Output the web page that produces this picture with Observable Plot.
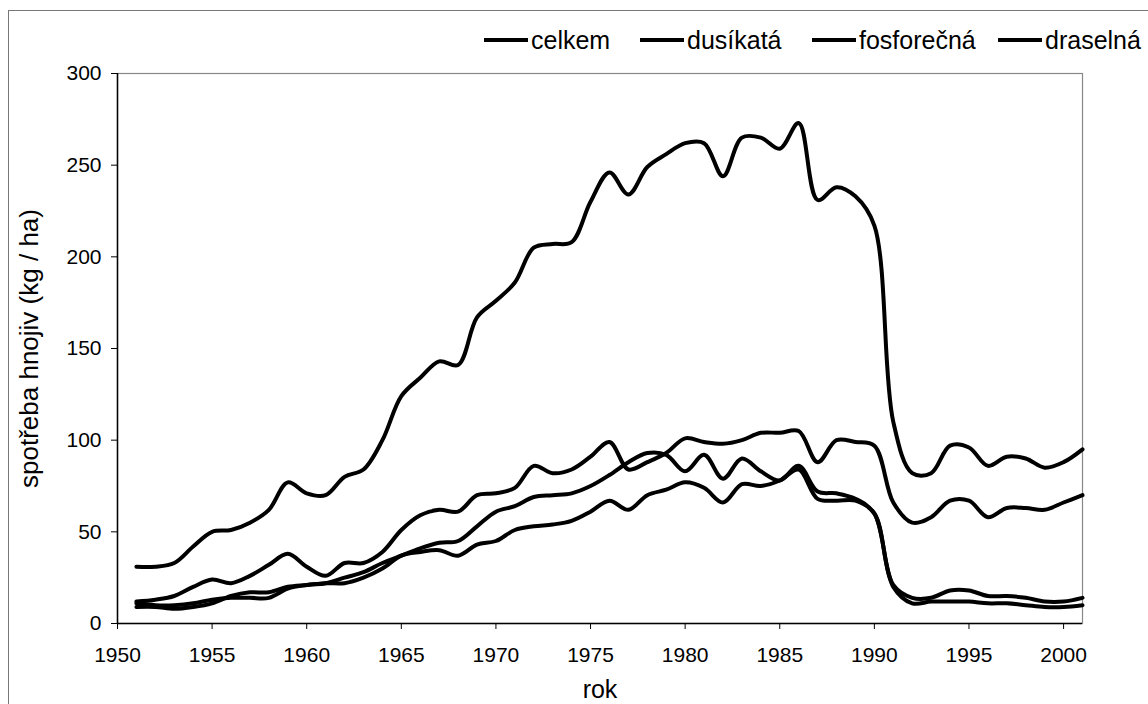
<!DOCTYPE html>
<html>
<head>
<meta charset="utf-8">
<script src="https://cdn.jsdelivr.net/npm/d3@7"></script>
<script src="https://cdn.jsdelivr.net/npm/@observablehq/plot@0.6"></script>
<style>
  html, body { margin: 0; padding: 0; background: #fff; }
  #wrap { position: relative; width: 1148px; height: 704px; overflow: hidden; background: #fff;
          font-family: "Liberation Sans", Arial, sans-serif; }
  #frame { position: absolute; left: 8px; top: 10px; width: 1300px; height: 900px; border: 1.5px solid #777; box-sizing: border-box; }
  #legend { position: absolute; left: 0; top: 0; width: 1148px; height: 60px; }
  .item { position: absolute; top: 25px; display: flex; align-items: center; font-size: 25px; color: #000; line-height: 30px; white-space: nowrap; }
  .swatch { width: 44px; height: 3.5px; background: #000; margin-right: 3px; }
  #chart { position: absolute; left: 0; top: 60px; }
</style>
</head>
<body>
<div id="wrap">
  <div id="frame"></div>
  <div id="legend"></div>
  <div id="chart"></div>
</div>
<script>
const years = [1951,1952,1953,1954,1955,1956,1957,1958,1959,1960,
  1961,1962,1963,1964,1965,1966,1967,1968,1969,1970,
  1971,1972,1973,1974,1975,1976,1977,1978,1979,1980,
  1981,1982,1983,1984,1985,1986,1987,1988,1989,1990,
  1991,1992,1993,1994,1995,1996,1997,1998,1999,2000,2001];

const celkem = [31,31,33,42,50,51,55,62,77,71,
  70,80,84,100,124,134,143,141,167,176,
  186,205,207,208,230,246,234,249,256,262,
  262,244,265,265,259,273,231,238,233,217,
  110,82,82,97,96,86,91,90,85,88,95];

const dusikata = [12,13,15,20,24,22,26,32,38,31,
  26,33,33,39,51,59,62,61,70,71,
  74,86,82,84,91,99,84,88,93,101,
  99,98,100,104,104,105,88,100,99,97,
  66,55,58,67,67,58,63,63,62,66,70];

const fosforecna = [9,9,8,9,11,15,17,17,20,21,
  22,22,25,30,37,39,40,37,43,45,
  51,53,54,56,61,67,62,70,73,77,
  74,66,76,75,78,84,68,67,67,60,
  21,14,14,18,18,15,15,14,12,12,14];

const draselna = [11,10,10,11,13,14,14,14,19,21,
  22,25,28,33,37,41,44,45,53,61,
  64,69,70,71,75,81,88,93,92,83,
  92,79,90,83,78,86,72,71,68,60,
  20,11,12,12,12,11,11,10,9,9,10];

const seriesNames = ["celkem", "dusíkatá", "fosforečná", "draselná"];
const seriesValues = [celkem, dusikata, fosforecna, draselna];

const xTicks = [1950,1955,1960,1965,1970,1975,1980,1985,1990,1995,2000];
const yTicks = [0,50,100,150,200,250,300];

const xLabel = "rok";
const yLabel = "spotřeba hnojiv (kg / ha)";

const rows = seriesNames.flatMap((name, k) =>
  years.map((year, i) => ({year, value: seriesValues[k][i], series: name})));

// legend
const legendLefts = [484, 640, 812, 998];
const legend = document.getElementById("legend");
seriesNames.forEach((name, i) => {
  const it = document.createElement("div");
  it.className = "item";
  it.style.left = legendLefts[i] + "px";
  const sw = document.createElement("span");
  sw.className = "swatch";
  const tx = document.createElement("span");
  tx.textContent = name;
  it.appendChild(sw); it.appendChild(tx);
  legend.appendChild(it);
});

const FONT = '"Liberation Sans", Arial, sans-serif';

const chart = Plot.plot({
  width: 1148,
  height: 644,
  marginTop: 13,
  marginRight: 66,
  marginBottom: 81,
  marginLeft: 117,
  style: {fontFamily: FONT, fontSize: "21px", color: "#000", background: "transparent", overflow: "visible"},
  x: {domain: [1950, 2001]},
  y: {domain: [0, 300]},
  marks: [
    Plot.frame({stroke: "#888", strokeWidth: 1.2}),
    Plot.axisX({ticks: xTicks, tickFormat: d => String(d), tickSize: 6, tickPadding: 18,
      label: xLabel, labelAnchor: "center", labelArrow: "none", labelOffset: 74, fontSize: 21}),
    Plot.axisY({ticks: yTicks, tickSize: 6, tickPadding: 10,
      label: yLabel, labelAnchor: "center", labelArrow: "none", labelOffset: 98, fontSize: 21}),
    Plot.ruleY([0], {stroke: "#000", strokeWidth: 1.5}),
    Plot.ruleX([1950], {stroke: "#000", strokeWidth: 1.5}),
    Plot.lineY(rows, {x: "year", y: "value", z: "series", stroke: "#000", strokeWidth: 4,
      curve: "catmull-rom", strokeLinejoin: "round", strokeLinecap: "round"})
  ]
});
d3.select(chart).selectAll('[aria-label="y-axis label"] text').attr("font-size", 26);
d3.select(chart).selectAll('[aria-label="x-axis label"] text').attr("font-size", 25);
document.getElementById("chart").appendChild(chart);
</script>
</body>
</html>
